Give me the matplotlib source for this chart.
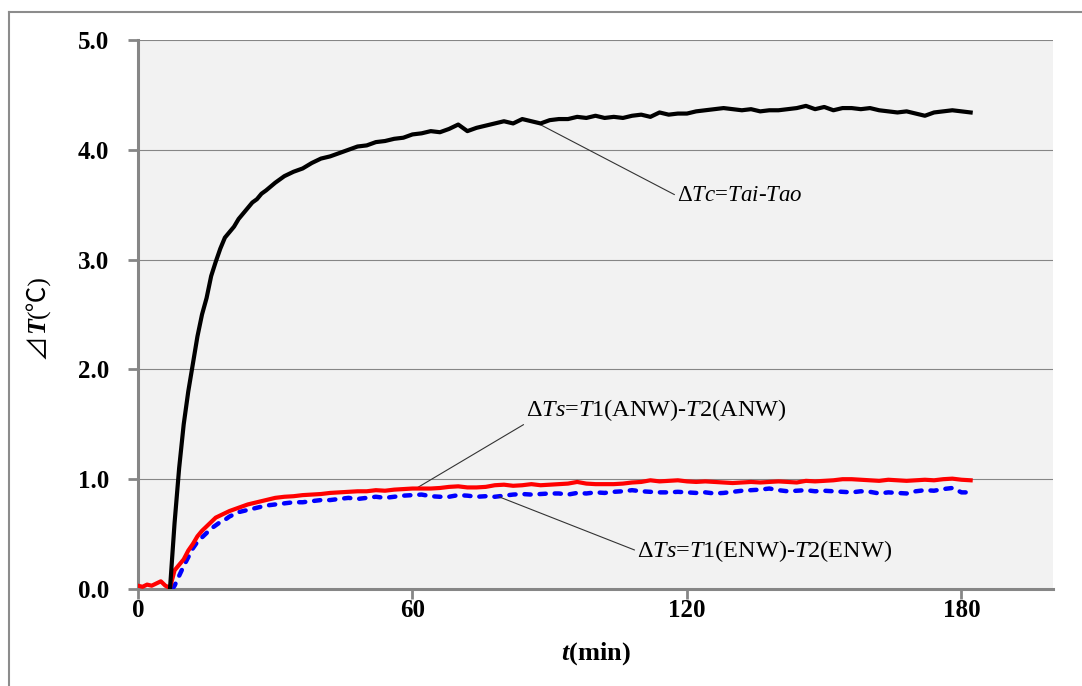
import numpy as np
import matplotlib
matplotlib.use('Agg')
import matplotlib.pyplot as plt
from matplotlib.lines import Line2D

plt.rcParams.update({'font.family': ['Liberation Serif', 'Noto Sans CJK SC'],
                     'mathtext.fontset': 'custom',
                     'mathtext.rm': 'Liberation Serif',
                     'mathtext.it': 'Liberation Serif:italic',
                     'mathtext.bf': 'Liberation Serif:bold',
                     'mathtext.bfit': 'Liberation Serif:italic:bold'})

# ---- data (t in min, dT in degC) ----
t_c = [7, 8, 9, 10, 11, 12, 13, 14, 15, 16, 17, 18, 19, 20, 21, 22, 23, 24, 25, 26, 27, 28,
       30, 32, 34, 36, 38, 40, 42, 44, 46, 48, 50, 52, 54, 56, 58, 60, 62, 64, 66, 68, 70, 72,
       74, 76, 78, 80, 82, 84, 86, 88, 90, 92, 94, 96, 98, 100, 102, 104, 106, 108, 110, 112,
       114, 116, 118, 120, 122, 124, 126, 128, 130, 132, 134, 136, 138, 140, 142, 144, 146, 148,
       150, 152, 154, 156, 158, 160, 162, 164, 166, 168, 170, 172, 174, 176, 178, 180, 182]
dTc = [0.0, 0.6, 1.1, 1.5, 1.8, 2.05, 2.3, 2.5, 2.65, 2.85, 2.98, 3.1, 3.2, 3.25, 3.3, 3.37, 3.42,
       3.47, 3.52, 3.55, 3.6, 3.63, 3.7, 3.76, 3.8, 3.83, 3.88, 3.92, 3.94, 3.97, 4.0, 4.03, 4.04,
       4.07, 4.08, 4.1, 4.11, 4.14, 4.15, 4.17, 4.16, 4.19, 4.23, 4.17, 4.2, 4.22, 4.24, 4.26, 4.24,
       4.28, 4.26, 4.24, 4.27, 4.28, 4.28, 4.30, 4.29, 4.31, 4.29, 4.30, 4.29, 4.31, 4.32, 4.30,
       4.34, 4.32, 4.33, 4.33, 4.35, 4.36, 4.37, 4.38, 4.37, 4.36, 4.37, 4.35, 4.36, 4.36, 4.37,
       4.38, 4.40, 4.37, 4.39, 4.36, 4.38, 4.38, 4.37, 4.38, 4.36, 4.35, 4.34, 4.35, 4.33, 4.31,
       4.34, 4.35, 4.36, 4.35, 4.34]

t_anw = [0, 1, 2, 3, 4, 5, 6, 7, 8, 9, 10, 11, 12, 13, 14, 15, 16, 17, 18, 19, 20, 22, 24, 26,
         28, 30, 32, 34, 36, 38, 40, 42, 44, 46, 48, 50, 52, 54, 56, 58, 60, 62, 64, 66, 68, 70,
         72, 74, 76, 78, 80, 82, 84, 86, 88, 90, 92, 94, 96, 98, 100, 102, 104, 106, 108, 110,
         112, 114, 116, 118, 120, 122, 124, 126, 128, 130, 132, 134, 136, 138, 140, 142, 144,
         146, 148, 150, 152, 154, 156, 158, 160, 162, 164, 166, 168, 170, 172, 174, 176, 178,
         180, 182]
dTs_anw = [0.03, 0.02, 0.04, 0.03, 0.05, 0.07, 0.03, 0.01, 0.17, 0.22, 0.27, 0.35, 0.41, 0.48,
           0.53, 0.57, 0.61, 0.65, 0.67, 0.69, 0.71, 0.74, 0.77, 0.79, 0.81, 0.83, 0.84, 0.845,
           0.855, 0.86, 0.865, 0.875, 0.88, 0.885, 0.89, 0.89, 0.90, 0.895, 0.905, 0.91, 0.915,
           0.915, 0.915, 0.92, 0.93, 0.935, 0.925, 0.925, 0.93, 0.945, 0.95, 0.94, 0.945, 0.955,
           0.945, 0.95, 0.955, 0.96, 0.975, 0.96, 0.955, 0.955, 0.955, 0.96, 0.97, 0.975, 0.99,
           0.98, 0.985, 0.99, 0.98, 0.975, 0.98, 0.975, 0.97, 0.965, 0.97, 0.975, 0.97, 0.975,
           0.98, 0.975, 0.97, 0.985, 0.98, 0.985, 0.99, 1.0, 1.0, 0.995, 0.99, 0.985, 0.995, 0.99,
           0.985, 0.99, 0.995, 0.99, 1.0, 1.005, 0.995, 0.99]

t_enw = [7.5, 8, 9, 10, 11, 12, 13, 14, 15, 16, 17, 18, 19, 20, 22, 24, 26, 28, 30, 32, 34, 36,
         38, 40, 42, 44, 46, 48, 50, 52, 54, 56, 58, 60, 62, 64, 66, 68, 70, 72, 74, 76, 78, 80,
         82, 84, 86, 88, 90, 92, 94, 96, 98, 100, 102, 104, 106, 108, 110, 112, 114, 116, 118,
         120, 122, 124, 126, 128, 130, 132, 134, 136, 138, 140, 142, 144, 146, 148, 150, 152,
         154, 156, 158, 160, 162, 164, 166, 168, 170, 172, 174, 176, 178, 180, 182]
dTs_enw = [0.0, 0.03, 0.12, 0.21, 0.29, 0.37, 0.43, 0.47, 0.51, 0.55, 0.58, 0.61, 0.63, 0.66,
           0.70, 0.72, 0.74, 0.76, 0.77, 0.78, 0.79, 0.79, 0.80, 0.81, 0.81, 0.82, 0.83, 0.82,
           0.83, 0.84, 0.83, 0.84, 0.85, 0.855, 0.86, 0.845, 0.84, 0.84, 0.855, 0.85, 0.84, 0.845,
           0.84, 0.85, 0.86, 0.865, 0.86, 0.865, 0.87, 0.87, 0.86, 0.875, 0.87, 0.88, 0.875, 0.885,
           0.89, 0.9, 0.89, 0.885, 0.88, 0.88, 0.885, 0.88, 0.875, 0.88, 0.87, 0.875, 0.885, 0.895,
           0.9, 0.905, 0.915, 0.9, 0.89, 0.895, 0.9, 0.89, 0.895, 0.89, 0.885, 0.88, 0.89, 0.885,
           0.87, 0.88, 0.875, 0.87, 0.89, 0.9, 0.895, 0.91, 0.92, 0.88, 0.88]

xticks = [0, 60, 120, 180]
yticks = [0, 1, 2, 3, 4, 5]

GRAY = '#868686'
fig = plt.figure(figsize=(10.82, 6.86), dpi=100)
ax = fig.add_axes([0.1275, 0.1414, 0.8457, 0.8003])
ax.set_facecolor('#F2F2F2')

ax.plot(t_enw, dTs_enw, color='#0000FF', lw=3.2, ls=(0, (1.4, 2.0)), dash_capstyle='round', zorder=3)
ax.plot(t_anw, dTs_anw, color='#FF0000', lw=3.0, zorder=4)
ax.plot(t_c, dTc, color='black', lw=3.0, zorder=5)

ax.set_xlim(0, 200); ax.set_ylim(0, 5)
ax.set_xticks(xticks); ax.set_yticks(yticks)
ax.set_yticklabels([f'{v:.1f}' for v in yticks])
ax.tick_params(labelsize=18, length=7, width=2, color=GRAY)
ax.tick_params(axis='x', pad=0)
ax.tick_params(axis='y', pad=14)
for lab in ax.get_xticklabels() + ax.get_yticklabels():
    lab.set_fontweight('bold')
ax.yaxis.grid(True, color=GRAY, lw=0.8)
ax.set_axisbelow(True)
for s in ['top', 'right']:
    ax.spines[s].set_visible(False)
for s in ['left', 'bottom']:
    ax.spines[s].set_color(GRAY); ax.spines[s].set_linewidth(2.2)

ax.set_xlabel(r'$\mathbfit{t}$(min)', fontsize=19, fontweight='bold', labelpad=13)

ann = dict(arrowstyle='-', color='#333333', lw=0.8, shrinkA=2, shrinkB=0, patchA=None)
ax.annotate(r'$\Delta Tc$=$Tai$-$Tao$', xy=(87.9, 4.23), xytext=(117.8, 3.58), fontsize=16.5,
            ha='left', va='center', arrowprops=dict(ann, relpos=(0, 0.5)))
ax.annotate(r'$\Delta Ts$=$\mathit{T1}$(ANW)-$\mathit{T2(}$ANW$\mathit{)}$', xy=(61.2, 0.926),
            xytext=(84.8, 1.51), fontsize=17.5, ha='left', va='bottom',
            arrowprops=dict(ann, relpos=(0, 0)))
ax.annotate(r'$\Delta Ts$=$\mathit{T1}$(ENW)-$\mathit{T2(}$ENW$\mathit{)}$', xy=(78.9, 0.84),
            xytext=(109.1, 0.346), fontsize=17.5, ha='left', va='center',
            arrowprops=dict(ann, relpos=(0, 0.5)))

# y label built from pieces (rotated, stacked bottom to top)
renderer = fig.canvas.get_renderer()
pieces = [('⊿', dict(family=['Noto Sans CJK SC', 'DejaVu Sans'])),
          ('T', dict(fontweight='bold', fontstyle='italic')),
          ('(℃)', dict(family=['Liberation Serif', 'Noto Sans CJK SC']))]
ylab_x, ylab_bottom = 38, 686 - 359
ypos = ylab_bottom
for s, kw in pieces:
    t = fig.text(ylab_x / 1082, ypos / 686, s, rotation=90, fontsize=18.5,
                 ha='center', va='bottom', **kw)
    ypos += t.get_window_extent(renderer).height

# frame of the original figure (only left and top edges visible)
fig.add_artist(Line2D([0.0083, 0.0083], [0, 0.9825], color='#8C8C8C', lw=1.5))
fig.add_artist(Line2D([0.0083, 1.0], [0.9825, 0.9825], color='#8C8C8C', lw=1.5))

fig.savefig('out.png', dpi=100)
